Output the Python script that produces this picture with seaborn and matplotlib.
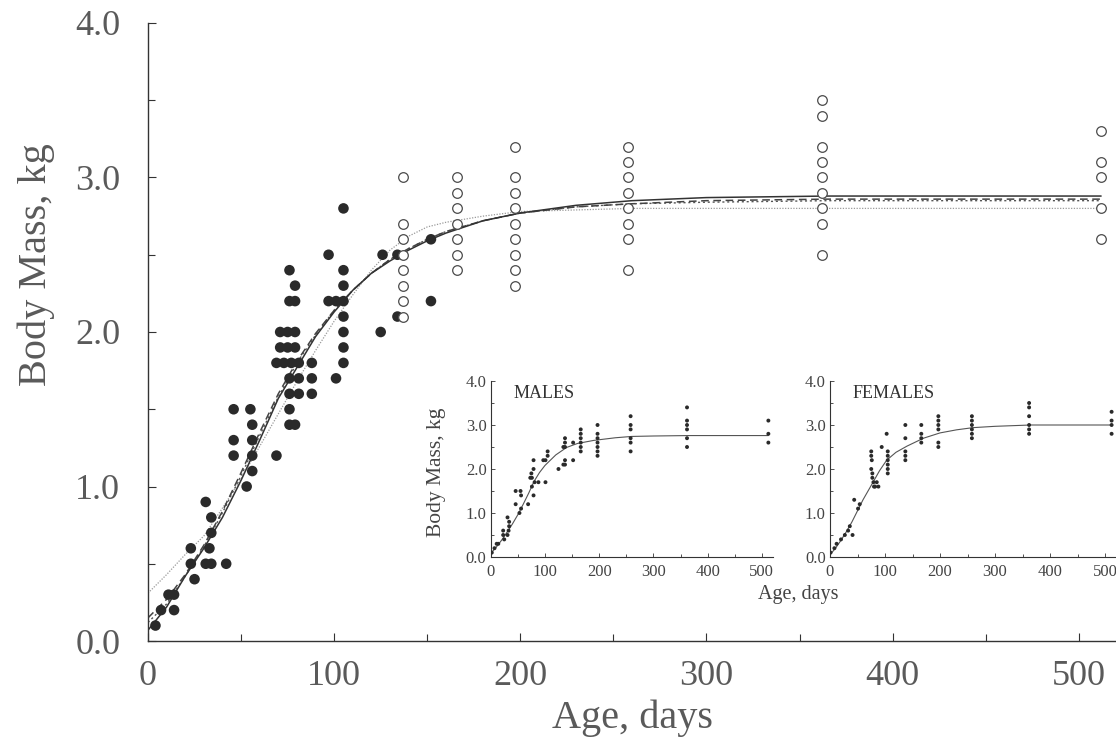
import matplotlib
matplotlib.use("Agg")
import matplotlib.pyplot as plt
import seaborn as sns
import pandas as pd
from matplotlib.ticker import MultipleLocator, FormatStrFormatter

# ---------------- data ----------------
# young animals, filled circles (age in days, body mass in kg)
young_age = [4,
             7, 14,
             11, 14,
             25,
             23, 31, 34, 42,
             23, 33,
             34, 34, 31,
             53, 56,
             46, 56, 69,
             46, 56,
             56, 76, 79,
             46, 55, 76,
             76, 81, 88,
             76, 81, 88, 101,
             69, 73, 77, 81, 88, 105,
             71, 75, 79, 105,
             71, 75, 79, 105, 125,
             105, 134,
             76, 79, 97, 101, 105, 152,
             79, 105,
             76, 105,
             97, 126, 134,
             152,
             105]
young_mass = [0.1,
              0.2, 0.2,
              0.3, 0.3,
              0.4,
              0.5, 0.5, 0.5, 0.5,
              0.6, 0.6,
              0.7, 0.8, 0.9,
              1.0, 1.1,
              1.2, 1.2, 1.2,
              1.3, 1.3,
              1.4, 1.4, 1.4,
              1.5, 1.5, 1.5,
              1.6, 1.6, 1.6,
              1.7, 1.7, 1.7, 1.7,
              1.8, 1.8, 1.8, 1.8, 1.8, 1.8,
              1.9, 1.9, 1.9, 1.9,
              2.0, 2.0, 2.0, 2.0, 2.0,
              2.1, 2.1,
              2.2, 2.2, 2.2, 2.2, 2.2, 2.2,
              2.3, 2.3,
              2.4, 2.4,
              2.5, 2.5, 2.5,
              2.6,
              2.8]

# older animals, open circles
old_age = [137]*8 + [166]*7 + [197]*9 + [258]*8 + [362]*9 + [512]*5
old_mass = [3.0, 2.7, 2.6, 2.5, 2.4, 2.3, 2.2, 2.1,
            3.0, 2.9, 2.8, 2.7, 2.6, 2.5, 2.4,
            3.2, 3.0, 2.9, 2.8, 2.7, 2.6, 2.5, 2.4, 2.3,
            3.2, 3.1, 3.0, 2.9, 2.8, 2.7, 2.6, 2.4,
            3.5, 3.4, 3.2, 3.1, 3.0, 2.9, 2.8, 2.7, 2.5,
            3.3, 3.1, 3.0, 2.8, 2.6]

# fitted growth curves (traced)
curve_age = [0, 10, 20, 30, 40, 50, 60, 70, 80, 90, 100, 110, 120, 130, 140,
             150, 160, 180, 200, 230, 260, 300, 365, 420, 512]
curve_solid = [0.07, 0.22, 0.42, 0.60, 0.80, 1.04, 1.30, 1.57, 1.77, 1.97, 2.13, 2.27,
               2.38, 2.46, 2.53, 2.59, 2.64, 2.72, 2.77, 2.82, 2.85, 2.87, 2.88, 2.88, 2.88]
curve_dashed = [0.15, 0.27, 0.43, 0.62, 0.84, 1.09, 1.35, 1.60, 1.81, 1.99, 2.14, 2.27,
                2.38, 2.47, 2.54, 2.60, 2.65, 2.72, 2.77, 2.81, 2.83, 2.85, 2.86, 2.86, 2.86]
curve_dotted = [0.12, 0.24, 0.42, 0.61, 0.83, 1.07, 1.33, 1.58, 1.80, 1.98, 2.14, 2.27,
                2.38, 2.47, 2.54, 2.60, 2.65, 2.72, 2.77, 2.81, 2.83, 2.84, 2.85, 2.85, 2.85]
curve_light = [0.31, 0.43, 0.56, 0.68, 0.86, 1.05, 1.26, 1.47, 1.68, 1.88, 2.07, 2.24,
               2.40, 2.53, 2.62, 2.68, 2.71, 2.75, 2.78, 2.79, 2.80, 2.80, 2.80, 2.80, 2.80]

# inset: males
male_age = [2, 7, 11, 14, 23, 23, 25, 31, 33, 34, 34, 31, 46, 46, 53, 55, 56, 56, 69,
            73, 75, 76, 76, 79, 79, 79, 81, 88, 97, 101, 105, 105, 101, 125, 134, 134,
            152, 152]
male_mass = [0.1, 0.2, 0.3, 0.3, 0.5, 0.6, 0.4, 0.5, 0.6, 0.7, 0.8, 0.9, 1.2, 1.5, 1.0,
             1.5, 1.1, 1.4, 1.2, 1.8, 1.9, 1.8, 1.6, 1.4, 2.0, 2.2, 1.7, 1.7, 2.2, 2.2,
             2.4, 2.3, 1.7, 2.0, 2.5, 2.1, 2.6, 2.2]
male_old_age = [137]*5 + [166]*6 + [197]*7 + [258]*6 + [362]*6 + [512]*3
male_old_mass = [2.7, 2.6, 2.5, 2.2, 2.1,
                 2.9, 2.8, 2.7, 2.6, 2.5, 2.4,
                 3.0, 2.8, 2.7, 2.6, 2.5, 2.4, 2.3,
                 3.2, 3.0, 2.9, 2.7, 2.6, 2.4,
                 3.4, 3.1, 3.0, 2.9, 2.7, 2.5,
                 3.1, 2.8, 2.6]
male_fit_age = [0, 10, 20, 30, 40, 50, 60, 70, 80, 90, 100, 120, 140, 160, 190, 230,
                260, 300, 365, 512]
male_fit_mass = [0.08, 0.22, 0.38, 0.56, 0.75, 0.96, 1.20, 1.45, 1.72, 1.92, 2.08, 2.32,
                 2.49, 2.58, 2.65, 2.71, 2.74, 2.75, 2.76, 2.76]

# inset: females
female_age = [1, 8, 12, 20, 27, 33, 36, 41, 44, 51, 54, 75, 75, 76, 75, 77, 77, 79, 80,
              82, 85, 88, 94, 103, 105, 105, 105, 105, 105, 105]
female_mass = [0.1, 0.2, 0.3, 0.4, 0.5, 0.6, 0.7, 0.5, 1.3, 1.1, 1.2, 2.4, 2.3, 2.2, 2.0,
               1.9, 1.8, 1.7, 1.6, 1.6, 1.7, 1.6, 2.5, 2.8, 2.4, 2.3, 2.2, 2.1, 2.0, 1.9]
female_old_age = [137]*5 + [166]*4 + [197]*6 + [258]*6 + [362]*6 + [512]*4
female_old_mass = [3.0, 2.7, 2.4, 2.3, 2.2,
                   3.0, 2.8, 2.7, 2.6,
                   3.2, 3.1, 3.0, 2.9, 2.6, 2.5,
                   3.2, 3.1, 3.0, 2.9, 2.8, 2.7,
                   3.5, 3.4, 3.2, 3.0, 2.9, 2.8,
                   3.3, 3.1, 3.0, 2.8]
female_fit_age = [0, 10, 20, 30, 40, 54, 60, 76, 90, 103, 120, 140, 170, 200, 230, 260,
                  300, 365, 512]
female_fit_mass = [0.05, 0.20, 0.38, 0.58, 0.80, 1.15, 1.30, 1.65, 1.96, 2.20, 2.38, 2.52,
                   2.70, 2.82, 2.89, 2.94, 2.97, 3.00, 3.00]

# ---------------- style ----------------
sns.set_theme(style="ticks")
SERIF = ["Liberation Serif", "DejaVu Serif"]
plt.rcParams["font.family"] = SERIF
TXT = "#5a5a5a"
INK = "#2a2a2a"

fig = plt.figure(figsize=(11.16, 7.51), dpi=100)
fig.patch.set_facecolor("white")

W, H = 1116.0, 751.0
ax = fig.add_axes([148 / W, 110 / H, 968 / W, 618 / H])
ax.set_facecolor("none")

young = pd.DataFrame({"age": young_age, "mass": young_mass})
old = pd.DataFrame({"age": old_age, "mass": old_mass})
curves = pd.DataFrame({"age": curve_age, "solid": curve_solid, "dashed": curve_dashed,
                       "dotted": curve_dotted, "light": curve_light})

sns.lineplot(data=curves, x="age", y="light", ax=ax, color="#9a9a9a", lw=0.9,
             linestyle=(0, (1, 1.2)), estimator=None, sort=False)
sns.lineplot(data=curves, x="age", y="dotted", ax=ax, color="#555555", lw=1.0,
             linestyle=(0, (1.5, 2.0)), estimator=None, sort=False)
sns.lineplot(data=curves, x="age", y="dashed", ax=ax, color="#444444", lw=1.1,
             linestyle=(0, (5, 3)), estimator=None, sort=False)
sns.lineplot(data=curves, x="age", y="solid", ax=ax, color="#333333", lw=1.1,
             estimator=None, sort=False)

sns.scatterplot(data=young, x="age", y="mass", ax=ax, s=58, color=INK,
                edgecolor="none", zorder=3)
sns.scatterplot(data=old, x="age", y="mass", ax=ax, s=48, facecolor="white",
                edgecolor="#4a4a4a", linewidth=0.9, zorder=3)

ax.set_xlim(0, 520)
ax.set_ylim(0, 4.0)
for s in ("top", "right"):
    ax.spines[s].set_visible(False)
for s in ("left", "bottom"):
    ax.spines[s].set_color("#333333")
    ax.spines[s].set_linewidth(1.0)
ax.xaxis.set_major_locator(MultipleLocator(100))
ax.xaxis.set_minor_locator(MultipleLocator(50))
ax.yaxis.set_major_locator(MultipleLocator(1.0))
ax.yaxis.set_minor_locator(MultipleLocator(0.5))
ax.yaxis.set_major_formatter(FormatStrFormatter("%.1f"))
ax.tick_params(axis="both", which="major", direction="in", length=6, width=0.8,
               colors="#333333", labelcolor=TXT, labelsize=26)
ax.tick_params(axis="both", which="minor", direction="in", length=5, width=0.8,
               colors="#333333")
ax.tick_params(axis="x", which="major", pad=14)
ax.tick_params(axis="y", which="major", pad=20)
ax.set_xlabel("")
ax.set_ylabel("")

fig.text(36 / W, 1 - 265 / H, "Body Mass, kg", rotation=90, ha="center", va="center",
         fontsize=29, color=TXT)
fig.text(632 / W, 1 - 718 / H, "Age, days", ha="center", va="center",
         fontsize=29, color=TXT)


def inset(rect, age, mass, old_a, old_m, fit_a, fit_m, title):
    a = fig.add_axes(rect)
    a.set_facecolor("none")
    pts = pd.DataFrame({"age": list(age) + list(old_a), "mass": list(mass) + list(old_m)})
    fit = pd.DataFrame({"age": fit_a, "mass": fit_m})
    sns.lineplot(data=fit, x="age", y="mass", ax=a, color="#555555", lw=0.8,
                 estimator=None, sort=False)
    sns.scatterplot(data=pts, x="age", y="mass", ax=a, s=8, color=INK,
                    edgecolor="none", zorder=3)
    a.set_xlim(0, 520)
    a.set_ylim(0, 4.0)
    for s in ("top", "right"):
        a.spines[s].set_visible(False)
    for s in ("left", "bottom"):
        a.spines[s].set_color("#333333")
        a.spines[s].set_linewidth(0.8)
    a.xaxis.set_major_locator(MultipleLocator(100))
    a.xaxis.set_minor_locator(MultipleLocator(50))
    a.yaxis.set_major_locator(MultipleLocator(1.0))
    a.yaxis.set_minor_locator(MultipleLocator(0.5))
    a.yaxis.set_major_formatter(FormatStrFormatter("%.1f"))
    a.tick_params(axis="both", which="major", direction="in", length=3, width=0.6,
                  colors="#333333", labelcolor="#444444", labelsize=12, pad=3)
    a.tick_params(axis="x", which="major", pad=5)
    a.tick_params(axis="both", which="minor", direction="in", length=2, width=0.6,
                  colors="#333333")
    a.set_xlabel("")
    a.set_ylabel("")
    a.text(0.08, 0.93, title, transform=a.transAxes, fontsize=13, color="#333333",
           ha="left", va="center")
    return a


inset([490.7 / W, (751 - 557) / H, 282 / W, 176 / H], male_age, male_mass,
      male_old_age, male_old_mass, male_fit_age, male_fit_mass, "MALES")
inset([830 / W, (751 - 557) / H, 286 / W, 176 / H], female_age, female_mass,
      female_old_age, female_old_mass, female_fit_age, female_fit_mass, "FEMALES")

fig.text(437 / W, 1 - 472 / H, "Body Mass, kg", rotation=90, ha="center", va="center",
         fontsize=15.5, color="#444444")
fig.text(798 / W, 1 - 595 / H, "Age, days", ha="center", va="center",
         fontsize=14.5, color="#444444")

fig.savefig("out.png", dpi=100, facecolor="white")
